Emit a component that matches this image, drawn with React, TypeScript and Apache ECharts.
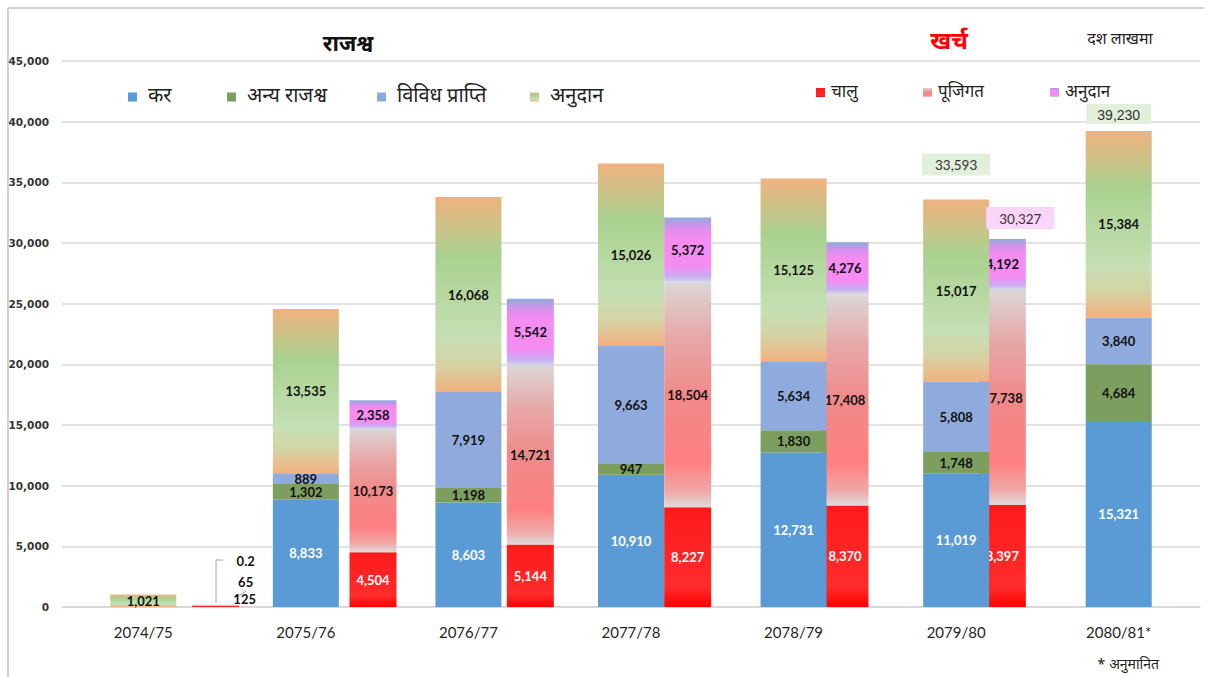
import React, { useEffect, useRef } from 'react';
import * as echarts from 'echarts';

// ---------- data ----------
const categories = ['2074/75', '2075/76', '2076/77', '2077/78', '2078/79', '2079/80', '2080/81*'];
const expenseCategories = ['2074/75', '2075/76', '2076/77', '2077/78', '2078/79', '2079/80'];

// राजश्व (revenue)
const revTax = [null, 8833, 8603, 10910, 12731, 11019, 15321];
const revOther = [null, 1302, 1198, 947, 1830, 1748, 4684];
const revMisc = [null, 889, 7919, 9663, 5634, 5808, 3840];
const revGrant = [1021, 13535, 16068, 15026, 15125, 15017, 15384];
const revTotals = [null, null, null, null, null, 33593, 39230];

// खर्च (expenditure)
const expCurrent = [125, 4504, 5144, 8227, 8370, 8397];
const expCapital = [65, 10173, 14721, 18504, 17408, 17738];
const expGrant = [0.2, 2358, 5542, 5372, 4276, 4192];
const expTotals = [null, null, null, null, null, 30327];

const yMin = 0;
const yMax = 45000;
const yInterval = 5000;

// ---------- helpers ----------
const fmt = (v: number | null) => (v == null ? '' : Number(v).toLocaleString('en-US'));
const LABEL_FONT = 'Lato, "Noto Sans", sans-serif';
const DEV_FONT = '"Noto Sans Devanagari", "Lohit Devanagari", "FreeSans", "Noto Sans", sans-serif';

const lg = (stops: [number, string][]) =>
  new echarts.graphic.LinearGradient(
    0, 0, 0, 1,
    stops.map(([offset, color]) => ({ offset, color }))
  );

const grantGreen = lg([
  [0, '#F0B27F'],
  [0.3, '#A9D18E'],
  [0.72, '#C5E0B4'],
  [0.86, '#D6D3A4'],
  [1, '#F2B07E'],
]);
const currentRed = lg([
  [0, '#FF1A1A'],
  [0.8, '#FF2C2C'],
  [1, '#FF0000'],
]);
const capitalPink = lg([
  [0, '#DCD6D6'],
  [0.25, '#E8A6A6'],
  [0.5, '#F08A8A'],
  [0.8, '#FF8080'],
  [0.93, '#F0A8A8'],
  [1, '#DEDCDC'],
]);
const grantMagenta = lg([
  [0, '#8FAADC'],
  [0.15, '#D890EC'],
  [0.3, '#F48CF2'],
  [0.75, '#F48CF2'],
  [0.9, '#C8ACF4'],
  [1, '#D8D8E8'],
]);

const innerLabel = (color: string) => ({
  show: true,
  position: 'inside' as const,
  color,
  fontFamily: LABEL_FONT,
  fontWeight: 'bold' as const,
  fontSize: 13,
  formatter: (p: any) => fmt(p.value),
});

export default function App() {
  const ref = useRef<HTMLDivElement>(null);

  useEffect(() => {
    if (!ref.current) return;
    const chart = echarts.init(ref.current, undefined, { renderer: 'svg' });

    const gridTop = 61;
    const gridBottom = 70;

    const revSeries = (name: string, data: any[], color: any, labelColor: string) => ({
      name,
      type: 'bar',
      stack: 'r',
      xAxisIndex: 0,
      yAxisIndex: 0,
      barWidth: 66,
      z: 3,
      data,
      itemStyle: { color },
      label: innerLabel(labelColor),
      emphasis: { disabled: true },
    });

    const expSeries = (name: string, data: any[], color: any, labelColor: string) => ({
      name,
      type: 'bar',
      stack: 'e',
      xAxisIndex: 1,
      yAxisIndex: 1,
      barWidth: 47,
      z: 2,
      data,
      itemStyle: { color },
      label: innerLabel(labelColor),
      emphasis: { disabled: true },
    });

    // small first-year expense labels are moved to the right of the bar
    const smallOffsets: Record<string, [number, number]> = {
      cur: [29, 0],
      cap: [30, -16],
      gr: [30, -37],
    };
    const withSmall = (arr: (number | null)[], key: string) =>
      arr.map((v, i) =>
        i === 0
          ? { value: v, label: { position: 'top', distance: 0, offset: smallOffsets[key], color: '#111' } }
          : v
      );

    const legendBase = {
      itemWidth: 9,
      itemHeight: 9,
      icon: 'rect',
      selectedMode: false,
      padding: 0,
    };
    const revLegendText = { fontFamily: DEV_FONT, fontSize: 20, lineHeight: 24, color: '#222', padding: [0, 0, 0, 6] };
    const expLegendText = { fontFamily: DEV_FONT, fontSize: 17, lineHeight: 21, color: '#222', padding: [0, 0, 0, 1] };

    const option: any = {
      animation: false,
      backgroundColor: '#ffffff',
      grid: [
        { left: 62, right: 9, top: gridTop, bottom: gridBottom },
        { left: 137, width: 944, top: gridTop, bottom: gridBottom },
      ],
      xAxis: [
        {
          type: 'category',
          gridIndex: 0,
          data: categories,
          axisLine: { lineStyle: { color: '#d6d6d6', width: 1.5 } },
          axisTick: { show: false },
          axisLabel: { fontSize: 15, color: '#262626', margin: 17, fontFamily: LABEL_FONT },
        },
        {
          type: 'category',
          gridIndex: 1,
          data: expenseCategories,
          show: false,
        },
      ],
      yAxis: [
        {
          type: 'value',
          gridIndex: 0,
          min: yMin,
          max: yMax,
          interval: yInterval,
          axisLine: { show: false },
          axisTick: { show: false },
          splitLine: { lineStyle: { color: '#dadada', width: 1.5 } },
          axisLabel: {
            margin: 13,
            fontSize: 10.5,
            fontWeight: 'bold',
            color: '#333',
            fontFamily: '"DejaVu Sans", Verdana, sans-serif',
            formatter: (v: number) => fmt(v),
          },
        },
        {
          type: 'value',
          gridIndex: 1,
          min: yMin,
          max: yMax,
          interval: yInterval,
          show: false,
          splitLine: { show: false },
        },
      ],
      legend: [
        { ...legendBase, data: ['कर'], left: 128, top: 85, textStyle: revLegendText },
        { ...legendBase, data: ['अन्य राजश्व'], left: 227, top: 85, textStyle: revLegendText },
        { ...legendBase, data: ['विविध प्राप्ति'], left: 377, top: 85, textStyle: revLegendText },
        { ...legendBase, data: ['अनुदान'], left: 530, top: 85, textStyle: revLegendText },
        { ...legendBase, data: ['चालु'], left: 816, top: 82, textStyle: expLegendText },
        { ...legendBase, data: ['पूजिगत'], left: 923, top: 82, textStyle: expLegendText },
        {
          ...legendBase,
          data: ['खर्च अनुदान'],
          left: 1050,
          top: 82,
          textStyle: expLegendText,
          formatter: () => 'अनुदान',
        },
      ],
      series: [
        revSeries('कर', revTax, '#5B9BD5', '#ffffff'),
        revSeries('अन्य राजश्व', revOther, '#7C9F5F', '#111111'),
        revSeries('विविध प्राप्ति', revMisc, '#8FAADC', '#111111'),
        revSeries('अनुदान', revGrant, grantGreen, '#111111'),
        {
          name: 'revTotal',
          type: 'bar',
          stack: 'r',
          xAxisIndex: 0,
          yAxisIndex: 0,
          barWidth: 66,
          z: 4,
          silent: true,
          data: revTotals.map((t, i) =>
            t == null
              ? null
              : {
                  value: 0,
                  label:
                    i === 5
                      ? { distance: 24, padding: [5, 13, 3, 13], fontFamily: LABEL_FONT, fontSize: 13.5 }
                      : { distance: 7, padding: [4, 11, 2, 11], fontFamily: '"Liberation Sans", Arial, sans-serif', fontSize: 14 },
                }
          ),
          itemStyle: { color: 'rgba(0,0,0,0)' },
          label: {
            show: true,
            position: 'top',
            color: '#333',
            backgroundColor: '#E2EFDA',
            formatter: (p: any) => fmt(revTotals[p.dataIndex]),
          },
        },
        expSeries('चालु', withSmall(expCurrent, 'cur'), currentRed, '#ffffff'),
        expSeries('पूजिगत', withSmall(expCapital, 'cap'), capitalPink, '#111111'),
        expSeries('खर्च अनुदान', withSmall(expGrant, 'gr'), grantMagenta, '#111111'),
        {
          name: 'expTotal',
          type: 'bar',
          stack: 'e',
          xAxisIndex: 1,
          yAxisIndex: 1,
          barWidth: 47,
          z: 4,
          silent: true,
          data: expTotals.map((t) => (t == null ? null : 0)),
          itemStyle: { color: 'rgba(0,0,0,0)' },
          label: {
            show: true,
            position: 'top',
            distance: 10,
            offset: [18, 0],
            color: '#333',
            backgroundColor: '#FBD4FA',
            padding: [5, 13, 3, 13],
            fontFamily: LABEL_FONT,
            fontSize: 13.5,
            formatter: (p: any) => fmt(expTotals[p.dataIndex]),
          },
        },
      ],
      graphic: [
        {
          type: 'line',
          shape: { x1: 8, y1: 8, x2: 1204, y2: 8 },
          style: { stroke: '#d0d0d0', lineWidth: 2 },
          silent: true,
        },
        {
          type: 'line',
          shape: { x1: 8, y1: 8, x2: 8, y2: 677 },
          style: { stroke: '#d0d0d0', lineWidth: 2 },
          silent: true,
        },
        {
          type: 'polyline',
          shape: { points: [[216, 603], [216, 560], [223, 560]] },
          style: { stroke: '#a6a6a6', lineWidth: 1, fill: 'none' },
          silent: true,
        },
        {
          type: 'line',
          shape: { x1: 238, y1: 596, x2: 246, y2: 591 },
          style: { stroke: '#a6a6a6', lineWidth: 1 },
          silent: true,
        },
        {
          type: 'text',
          x: 348,
          y: 45,
          style: {
            text: 'राजश्व',
            fill: '#111',
            font: `bold 22px ${DEV_FONT}`,
            align: 'center',
            verticalAlign: 'middle',
            textAlign: 'center',
            textVerticalAlign: 'middle',
          },
        },
        {
          type: 'text',
          x: 949,
          y: 43,
          style: {
            text: 'खर्च',
            fill: '#FF0000',
            font: `bold 24px ${DEV_FONT}`,
            align: 'center',
            verticalAlign: 'middle',
            textAlign: 'center',
            textVerticalAlign: 'middle',
          },
        },
        {
          type: 'text',
          x: 1120,
          y: 40,
          style: {
            text: 'दश लाखमा',
            fill: '#222',
            font: `16px ${DEV_FONT}`,
            align: 'center',
            verticalAlign: 'middle',
            textAlign: 'center',
            textVerticalAlign: 'middle',
          },
        },
        {
          type: 'text',
          x: 1128,
          y: 665,
          style: {
            text: '* अनुमानित',
            fill: '#222',
            font: `14px ${DEV_FONT}`,
            align: 'center',
            verticalAlign: 'middle',
            textAlign: 'center',
            textVerticalAlign: 'middle',
          },
        },
      ],
    };

    chart.setOption(option);
    return () => chart.dispose();
  }, []);

  return (
    <div
      ref={ref}
      style={{ position: 'fixed', left: 0, top: 0, width: 1209, height: 677, background: '#fff' }}
    />
  );
}
